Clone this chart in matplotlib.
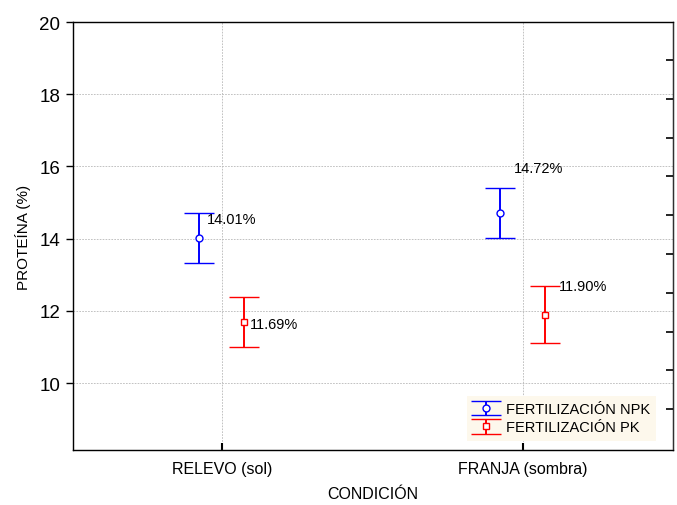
import numpy as np
import matplotlib.pyplot as plt

plt.rcParams['font.family'] = ['Liberation Sans', 'DejaVu Sans']

# Data: protein (%) by condition and fertilization
condiciones = ['RELEVO (sol)', 'FRANJA (sombra)']
npk_media = [14.01, 14.72]
npk_error = [0.69, 0.69]
pk_media = [11.69, 11.90]
pk_error = [0.69, 0.80]
npk_etiquetas = ['14.01%', '14.72%']
pk_etiquetas = ['11.69%', '11.90%']

x = np.arange(len(condiciones))
desp = 0.075

fig = plt.figure(figsize=(6.77, 5.06), dpi=100)
ax = fig.add_axes([0.1078, 0.1087, 0.8863, 0.8458])

ax.errorbar(x - desp, npk_media, yerr=npk_error, fmt='o', color='#0000ff',
            mfc='white', mec='#0000ff', ms=5, mew=1, elinewidth=1.4,
            capsize=11, capthick=1.4, label='FERTILIZACIÓN NPK', zorder=3)
ax.errorbar(x + desp, pk_media, yerr=pk_error, fmt='s', color='#ff0000',
            mfc='white', mec='#ff0000', ms=5, mew=1, elinewidth=1.4,
            capsize=11, capthick=1.4, label='FERTILIZACIÓN PK', zorder=3)

# value labels next to each mean
fs_val = 10.5
ax.text(x[0] - desp + 0.025, npk_media[0] + npk_error[0] - 0.15, npk_etiquetas[0],
        fontsize=fs_val, va='center', ha='left')
ax.text(x[1] - desp + 0.045, npk_media[1] + 1.23, npk_etiquetas[1],
        fontsize=fs_val, va='center', ha='left')
ax.text(x[0] + desp + 0.018, pk_media[0] - 0.04, pk_etiquetas[0],
        fontsize=fs_val, va='center', ha='left')
ax.text(x[1] + desp + 0.047, pk_media[1] + 0.78, pk_etiquetas[1],
        fontsize=fs_val, va='center', ha='left')

ax.set_xlim(-0.495, 1.5)
ax.set_ylim(8.15, 20)
ax.set_xticks(x)
ax.set_xticklabels(condiciones, fontsize=11.5)
ax.set_yticks([10, 12, 14, 16, 18, 20])
ax.tick_params(axis='y', labelsize=13.5, direction='out', length=5, width=1, pad=4)
ax.tick_params(axis='x', direction='in', length=5, width=1.5, pad=8)

ax.grid(True, color='#b8b8b8', linestyle=(0, (2, 1.5)), linewidth=0.6)
ax.set_axisbelow(True)
for s in ax.spines.values():
    s.set_color('#303030')
    s.set_linewidth(1.0)

ax.set_ylabel('PROTEÍNA (%)', fontsize=11, labelpad=6)
ax.set_xlabel('CONDICIÓN', fontsize=11.5, va='center')
ax.xaxis.set_label_coords(0.5, -0.102)

# right-hand tick marks
ax2 = ax.twinx()
ax2.set_ylim(ax.get_ylim())
ax2.set_yticks(np.linspace(9.28, 18.95, 10))
ax2.tick_params(axis='y', direction='in', length=5, width=1.2, labelright=False)
ax2.spines['right'].set_color('#303030')

leg = ax.legend(loc='lower right', bbox_to_anchor=(0.972, 0.021), fontsize=10.5,
                frameon=True, facecolor='#fdf8ec', edgecolor='none', framealpha=1,
                borderpad=0.45, handlelength=1.7, handletextpad=0.5, labelspacing=0.3,
                borderaxespad=0)
leg.get_frame().set_boxstyle('square', pad=0)

fig.savefig('out.png', dpi=100)
